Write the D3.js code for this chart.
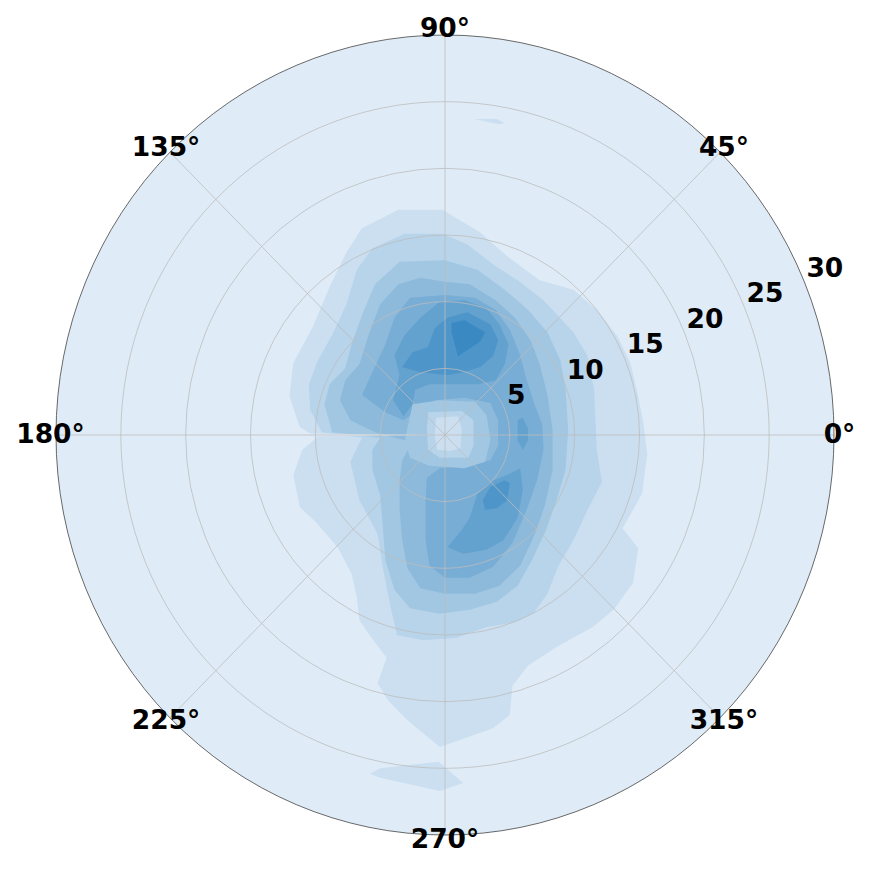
<!DOCTYPE html>
<html>
<head>
<meta charset="utf-8">
<script src="https://cdn.jsdelivr.net/npm/d3@7"></script>
<style>
  body { margin: 0; background: #ffffff; }
  svg { display: block; }
</style>
</head>
<body>
<svg id="chart" width="872" height="872"></svg>
<script>
// Polar filled contour (density of points).
// Contour outlines are given as [x, y] in radial units (x = r cos t, y = r sin t).

var rTicks = [5, 10, 15, 20, 25, 30]
var thetaTicks = [0, 45, 90, 135, 180, 225, 270, 315]
var rMax = 30

var band1 = [[-6.4,15.5],[-3.6,16.9],[-0.2,16.9],[2.7,15.2],[4.8,13.4],[7.3,11.6],[9.9,10.9],[11.7,9.4],[13.3,7.4],[14.3,5.4],[14.8,3.4],[15.3,0.9],[15.6,-1.4],[15.2,-4.4],[13.7,-7.0],[14.9,-8.5],[14.5,-11.1],[13.0,-13.1],[11.4,-14.4],[8.6,-15.9],[6.4,-17.3],[5.2,-18.8],[5.0,-21.0],[3.7,-22.0],[-0.4,-23.4],[-2.9,-21.4],[-4.4,-19.9],[-5.2,-18.6],[-4.5,-16.7],[-5.9,-14.9],[-6.6,-13.9],[-6.8,-12.2],[-7.2,-10.4],[-8.3,-8.4],[-9.9,-6.6],[-11.2,-5.4],[-11.7,-3.0],[-11.0,-1.1],[-9.9,-0.2],[-11.2,0.6],[-12.0,2.9],[-11.7,5.4],[-10.2,8.1],[-8.9,11.1],[-7.6,13.7]]
var band1Top = [[2.3,23.7],[4.0,23.7],[4.6,23.4],[4.2,23.3],[3.2,23.5]]
var band1Bottom = [[-5.8,-25.4],[-5.0,-25.0],[-0.5,-24.5],[1.4,-26.1],[-0.4,-26.7],[-5.0,-25.7]]

var band2 = [[-9.5,0.2],[-10.4,1.9],[-10.5,3.8],[-9.8,5.6],[-8.7,7.5],[-7.6,9.8],[-6.8,12.4],[-5.6,14.0],[-3.1,15.1],[-0.2,15.1],[1.7,14.3],[4.0,12.6],[5.6,11.6],[7.6,10.1],[9.9,7.7],[11.0,5.9],[11.5,3.4],[11.6,1.1],[11.7,-1.1],[12.1,-3.5],[11.0,-5.6],[9.9,-7.9],[8.7,-9.9],[7.9,-11.9],[6.8,-13.4],[5.2,-14.1],[3.2,-14.4],[0.9,-15.2],[-1.7,-15.4],[-3.7,-15.0],[-4.2,-12.9],[-4.8,-9.9],[-5.2,-7.4],[-6.6,-4.9],[-7.3,-2.0],[-6.4,-0.2]]

var band3 = [[-8.7,0.2],[-9.3,2.3],[-8.9,3.8],[-7.7,5.0],[-7.2,6.8],[-6.4,9.0],[-5.4,11.3],[-3.5,13.0],[0,13.1],[2.5,12.4],[4.6,10.9],[6.4,9.4],[7.9,7.7],[8.9,5.6],[9.3,3.4],[9.5,0.4],[9.3,-2.6],[8.6,-4.9],[7.8,-7.1],[6.7,-9.4],[5.6,-11.3],[4.0,-12.5],[1.9,-13.1],[-0.4,-13.4],[-2.7,-13.0],[-3.9,-11.6],[-4.6,-9.4],[-4.8,-6.8],[-5.0,-4.5],[-5.6,-2.6],[-5.6,-1.1],[-5.0,-0.2]]

var band4 = [[-5.4,0.2],[-7.3,1.1],[-8.1,2.6],[-7.7,4.1],[-6.6,5.3],[-5.9,7.5],[-5.0,9.8],[-3.6,11.3],[-1.9,11.8],[0,11.5],[1.9,11.3],[3.9,10.1],[5.4,8.8],[6.6,7.1],[7.3,5.3],[7.9,3.0],[8.3,0.4],[8.3,-2.6],[7.7,-5.3],[6.9,-7.5],[5.8,-9.8],[4.2,-11.3],[2.3,-11.9],[0,-11.9],[-1.9,-11.5],[-2.9,-10.0],[-3.3,-7.9],[-3.5,-5.6],[-3.5,-3.4],[-3.3,-1.9],[-2.7,-0.8],[-3.1,-0.4]]

var band5 = [[-4.6,1.7],[-6.4,3.0],[-5.6,4.7],[-4.6,6.8],[-3.9,8.8],[-2.7,10.3],[0,10.5],[2.3,10.3],[3.9,9.4],[5.0,7.9],[5.8,6.0],[6.3,4.1],[6.9,2.3],[7.5,0.8],[7.6,-1.1],[7.1,-3.4],[6.3,-5.6],[5.2,-8.1],[3.7,-9.9],[1.9,-10.7],[0,-10.7],[-1.2,-9.8],[-1.5,-7.9],[-1.5,-4.9],[-1.4,-3.2],[-0.4,-2.5],[1.5,-2.3],[3.5,-1.9],[4.1,-0.8],[4.1,1.1],[3.5,2.4],[1.5,2.8],[-0.8,2.6],[-2.3,1.7],[-3.2,1.1]]

var band6Top = [[-3.5,4.5],[-3.9,6.0],[-3.1,7.5],[-1.9,8.8],[-0.4,10.0],[1.5,10.1],[3.2,9.5],[4.2,8.3],[4.9,6.8],[4.6,5.3],[3.9,4.1],[2.5,3.8],[0.8,3.8],[-1.2,3.8],[-2.3,3.4],[-2.5,2.3],[-3.2,1.4],[-4.0,2.6]]
var band6Arm = [[5.6,1.1],[6.0,1.3],[6.4,0.5],[6.4,-0.4],[6.0,-1.1],[5.6,-0.4]]
var band6Low = [[0.2,-8.4],[1.3,-7.1],[1.9,-6.2],[2.5,-4.4],[3.5,-3.5],[5.0,-2.9],[5.8,-2.5],[6.0,-4.1],[5.6,-6.2],[4.5,-7.9],[3.2,-8.6],[1.4,-8.9]]

var band7Top = [[-3.3,5.1],[-2.5,6.2],[-1.3,6.6],[-0.8,8.0],[0.2,8.8],[1.7,9.2],[3.5,8.3],[4.1,7.1],[3.7,5.9],[2.7,5.1],[1.4,4.7],[0.2,4.5],[-1.9,4.7]]
var band7Low = [[2.9,-4.9],[3.5,-3.9],[4.6,-3.4],[5.0,-3.6],[4.8,-4.9],[4.0,-5.5],[3.1,-5.6]]

var band8 = [[0.5,8.4],[1.5,8.6],[3.1,7.7],[2.7,7.0],[1.0,5.9],[0.5,7.7]]

// low-density pocket around the pole
var pocket3 = [[-2.5,2.3],[-0.4,2.6],[2.3,2.5],[3.2,1.5],[3.5,-0.4],[3.1,-2.0],[1.5,-2.5],[-1.2,-2.3],[-2.7,-1.7],[-3.1,-0.4]]
var pocket2 = [[-1.3,1.7],[1.3,1.8],[2.2,1.1],[2.2,-0.8],[1.8,-1.7],[-0.4,-1.7],[-1.3,-1.1],[-1.4,0.4]]
var pocket1 = [[-0.7,1.3],[1.0,1.4],[1.3,0.5],[1.2,-1.0],[0.4,-1.2],[-0.6,-1.1],[-0.8,0.0]]

var contours = [
  { level: 1, pts: band1 }, { level: 1, pts: band1Top }, { level: 1, pts: band1Bottom },
  { level: 2, pts: band2 },
  { level: 3, pts: band3 },
  { level: 4, pts: band4 },
  { level: 5, pts: band5 },
  { level: 6, pts: band6Top }, { level: 6, pts: band6Arm }, { level: 6, pts: band6Low },
  { level: 7, pts: band7Top }, { level: 7, pts: band7Low },
  { level: 8, pts: band8 },
  { level: 3, pts: pocket3 }, { level: 2, pts: pocket2 }, { level: 1, pts: pocket1 }
]

var levelColors = ["#dfecf7", "#cbdff0", "#b7d4ea", "#a2c7e2", "#8dbadb", "#78add5", "#63a1cf", "#4e95c9", "#3b89c2"]

var cx = 445, cy = 435, rx = 389, ry = 400

var x = d3.scaleLinear().domain([-rMax, rMax]).range([cx - rx, cx + rx])
var y = d3.scaleLinear().domain([-rMax, rMax]).range([cy + ry, cy - ry])

var svg = d3.select("#chart")

function toXY(r, deg) {
  var a = deg * Math.PI / 180
  return [x(r * Math.cos(a)), y(r * Math.sin(a))]
}

// background disk
svg.append("ellipse")
  .attr("cx", x(0)).attr("cy", y(0))
  .attr("rx", x(rMax) - x(0)).attr("ry", y(0) - y(rMax))
  .attr("fill", levelColors[0])

var line = d3.line()
  .x(function (d) { return x(d[0]) })
  .y(function (d) { return y(d[1]) })
  .curve(d3.curveLinearClosed)

svg.append("g")
  .attr("class", "contours")
  .selectAll("path")
  .data(contours)
  .enter()
  .append("path")
  .attr("d", function (d) { return line(d.pts) })
  .attr("fill", function (d) { return levelColors[d.level] })

// the grid wraps at 180 deg, leaving a thin unfilled wedge
var seamHalf = 0.6
svg.append("path")
  .attr("d", "M" + toXY(0, 180) + "L" + toXY(rMax, 180 - seamHalf) + "L" + toXY(rMax, 180 + seamHalf) + "Z")
  .attr("fill", levelColors[0])

// grid
var grid = svg.append("g").attr("class", "grid")

grid.selectAll("ellipse")
  .data(rTicks.slice(0, -1))
  .enter()
  .append("ellipse")
  .attr("cx", x(0)).attr("cy", y(0))
  .attr("rx", function (d) { return x(d) - x(0) })
  .attr("ry", function (d) { return y(0) - y(d) })
  .attr("fill", "none")
  .attr("stroke", "#bdbdbd")
  .attr("stroke-width", 0.8)

grid.selectAll("line")
  .data(thetaTicks)
  .enter()
  .append("line")
  .attr("x1", x(0)).attr("y1", y(0))
  .attr("x2", function (d) { return toXY(rMax, d)[0] })
  .attr("y2", function (d) { return toXY(rMax, d)[1] })
  .attr("stroke", "#bdbdbd")
  .attr("stroke-width", 0.8)

// outer frame
svg.append("ellipse")
  .attr("cx", x(0)).attr("cy", y(0))
  .attr("rx", x(rMax) - x(0)).attr("ry", y(0) - y(rMax))
  .attr("fill", "none")
  .attr("stroke", "#444")
  .attr("stroke-width", 0.8)

var font = "'DejaVu Sans', sans-serif"
var labelPad = 5.5

// angle labels
svg.append("g")
  .selectAll("text")
  .data(thetaTicks)
  .enter()
  .append("text")
  .attr("x", function (d) {
    var a = d * Math.PI / 180
    return x(0) + (rx + labelPad) * Math.cos(a)
  })
  .attr("y", function (d) {
    var a = d * Math.PI / 180
    return y(0) - (ry + labelPad) * Math.sin(a) - 2
  })
  .attr("text-anchor", "middle")
  .attr("dominant-baseline", "central")
  .style("font-family", font)
  .style("font-weight", "bold")
  .style("font-size", "26.5px")
  .text(function (d) { return d + "°" })

// radius labels along 22.5 deg
svg.append("g")
  .selectAll("text")
  .data(rTicks)
  .enter()
  .append("text")
  .attr("x", function (d) { return toXY(d, 22.5)[0] + 2 })
  .attr("y", function (d) { return toXY(d, 22.5)[1] - 14.5 })
  .attr("text-anchor", "start")
  .attr("dominant-baseline", "central")
  .style("font-family", font)
  .style("font-weight", "bold")
  .style("font-size", "26.5px")
  .text(function (d) { return d })
</script>
</body>
</html>
